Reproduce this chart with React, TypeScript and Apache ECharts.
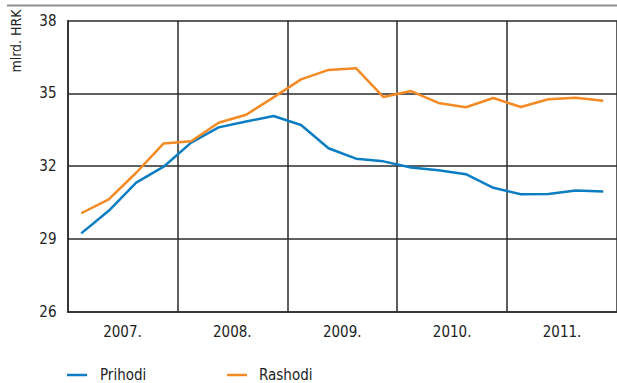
import React, { useEffect, useRef } from "react";
import * as echarts from "echarts";

const years = ["2007.", "2008.", "2009.", "2010.", "2011."];
const quarters = [
  "I.07", "II.07", "III.07", "IV.07",
  "I.08", "II.08", "III.08", "IV.08",
  "I.09", "II.09", "III.09", "IV.09",
  "I.10", "II.10", "III.10", "IV.10",
  "I.11", "II.11", "III.11", "IV.11",
];
const prihodi = [
  29.23, 30.16, 31.32, 31.98, 32.97, 33.6, 33.84, 34.07, 33.7, 32.74,
  32.31, 32.2, 31.95, 31.83, 31.67, 31.11, 30.84, 30.85, 31.0, 30.96,
];
const rashodi = [
  30.06, 30.63, 31.73, 32.94, 33.03, 33.79, 34.12, 34.84, 35.58, 35.97,
  36.04, 34.85, 35.1, 34.61, 34.43, 34.81, 34.44, 34.76, 34.82, 34.7,
];
const yTicks = { min: 26, max: 38, interval: 3 };
const yName = "mlrd. HRK";

const FONT = "'DejaVu Sans Condensed', 'Liberation Sans Narrow', sans-serif";
const BLUE = "#0b7dc3";
const ORANGE = "#f38a24";
const GRID = "#2a2a2a";
const TXT = "#222";

export default function App() {
  const ref = useRef<HTMLDivElement>(null);
  useEffect(() => {
    if (!ref.current) return;
    const chart = echarts.init(ref.current, null, { renderer: "svg" });
    chart.setOption({
      animation: false,
      backgroundColor: "#ffffff",
      textStyle: { fontFamily: FONT },
      grid: { left: 67.5, top: 20.7, right: -2.5, bottom: 383 - 311.7, containLabel: false },
      xAxis: [
        {
          type: "category",
          data: years,
          boundaryGap: true,
          axisLine: { show: true, lineStyle: { color: GRID, width: 1.5 } },
          axisTick: { show: false },
          splitLine: { show: true, lineStyle: { color: GRID, width: 1.5 } },
          axisLabel: { fontFamily: FONT, fontSize: 15, color: TXT, margin: 13 },
        },
        {
          type: "category",
          data: quarters,
          boundaryGap: true,
          show: false,
        },
      ],
      yAxis: {
        type: "value",
        min: yTicks.min,
        max: yTicks.max,
        interval: yTicks.interval,
        axisLine: { show: true, lineStyle: { color: GRID, width: 1.5 } },
        axisTick: { show: false },
        splitLine: { show: true, lineStyle: { color: GRID, width: 1.5 } },
        axisLabel: { fontFamily: FONT, fontSize: 15, color: TXT, margin: 11 },
      },
      legend: [
        {
          data: ["Prihodi"],
          left: 62,
          top: 362,
          icon: "rect",
          itemWidth: 20,
          itemHeight: 2.5,
          textStyle: { fontFamily: FONT, fontSize: 15, color: TXT, padding: [0, 0, 0, 8], lineHeight: 16 },
        },
        {
          data: ["Rashodi"],
          left: 222,
          top: 362,
          icon: "rect",
          itemWidth: 20,
          itemHeight: 2.5,
          textStyle: { fontFamily: FONT, fontSize: 15, color: TXT, padding: [0, 0, 0, 7], lineHeight: 16 },
        },
      ],
      graphic: [
        {
          type: "line",
          shape: { x1: 7, y1: 5.5, x2: 617, y2: 5.5 },
          style: { stroke: "#8f8f8f", lineWidth: 2 },
        },
        {
          type: "text",
          x: 15.5,
          y: 41,
          rotation: Math.PI / 2,
          style: {
            text: yName,
            fontFamily: FONT,
            fontSize: 14,
            fill: TXT,
            align: "center",
            verticalAlign: "middle",
          },
        },
      ],
      series: [
        {
          name: "Prihodi",
          type: "line",
          xAxisIndex: 1,
          data: prihodi,
          symbol: "none",
          lineStyle: { color: BLUE, width: 2.5 },
          itemStyle: { color: BLUE },
        },
        {
          name: "Rashodi",
          type: "line",
          xAxisIndex: 1,
          data: rashodi,
          symbol: "none",
          lineStyle: { color: ORANGE, width: 2.5 },
          itemStyle: { color: ORANGE },
        },
      ],
    });
    return () => chart.dispose();
  }, []);
  return (
    <div style={{ position: "fixed", left: 0, top: 0, width: 617, height: 383, overflow: "hidden", background: "#fff" }}>
      <div ref={ref} style={{ width: 617, height: 383 }} />
    </div>
  );
}
